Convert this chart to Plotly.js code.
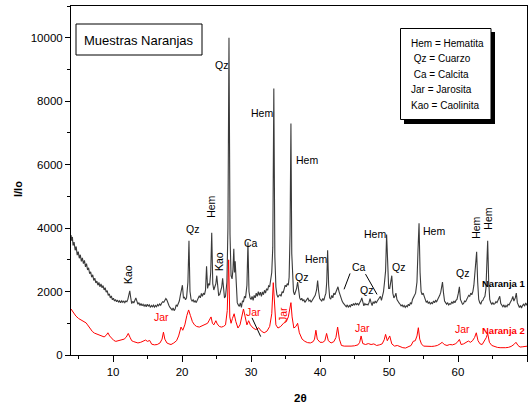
<!DOCTYPE html>
<html>
<head>
<meta charset="utf-8">
<script src="https://cdn.plot.ly/plotly-3.0.1.min.js"></script>
<style>html,body{margin:0;padding:0;background:#fff;}#chart{width:529px;height:406px;}</style>
</head>
<body>
<div id="chart"></div>
<script>
// ---- Data: Naranja 1 (2theta, I/Io) ----
const x1 = [
3.9,4.0,4.1,4.2,4.35,4.5,4.65,4.8,4.95,5.1,
5.25,5.4,5.55,5.7,5.85,6.0,6.15,6.3,6.45,6.6,
6.75,6.9,7.05,7.2,7.35,7.5,7.65,7.8,7.95,8.1,
8.25,8.4,8.55,8.7,8.85,9.0,9.15,9.3,9.45,9.6,
9.75,9.9,10.05,10.2,10.35,10.5,10.65,10.8,10.95,11.1,
11.25,11.4,11.55,11.7,11.85,12.0,12.15,12.3,12.42,12.55,
12.7,12.85,13.0,13.15,13.3,13.45,13.6,13.75,13.9,14.05,
14.2,14.35,14.5,14.65,14.8,14.95,15.1,15.25,15.4,15.55,
15.7,15.85,16.0,16.15,16.3,16.45,16.6,16.75,16.9,17.05,
17.2,17.35,17.5,17.65,17.8,17.95,18.1,18.25,18.4,18.55,
18.7,18.85,19.0,19.15,19.3,19.45,19.6,19.75,19.9,20.05,
20.2,20.35,20.5,20.65,20.85,21.0,21.15,21.3,21.45,21.6,
21.75,21.9,22.05,22.2,22.35,22.5,22.65,22.8,22.95,23.1,
23.25,23.4,23.55,23.7,23.85,24.0,24.15,24.3,24.45,24.6,
24.75,24.9,25.03,25.15,25.3,25.45,25.6,25.75,25.88,26.0,
26.15,26.3,26.5,26.65,26.8,26.95,27.1,27.25,27.38,27.5,
27.6,27.7,27.85,28.0,28.15,28.3,28.45,28.6,28.75,28.9,
29.05,29.2,29.4,29.55,29.7,29.85,30.0,30.15,30.3,30.45,
30.6,30.75,30.9,31.05,31.2,31.35,31.5,31.65,31.8,31.95,
32.1,32.25,32.4,32.55,32.7,32.85,33.0,33.15,33.3,33.45,
33.6,33.75,33.9,34.05,34.2,34.35,34.5,34.65,34.8,34.95,
35.1,35.25,35.4,35.52,35.65,35.78,35.9,36.02,36.15,36.3,
36.45,36.6,36.75,36.9,37.05,37.2,37.35,37.5,37.65,37.8,
37.95,38.1,38.25,38.4,38.55,38.7,38.85,39.0,39.15,39.3,
39.5,39.65,39.8,39.95,40.1,40.25,40.4,40.55,40.7,40.85,
40.97,41.1,41.25,41.4,41.55,41.7,41.85,42.0,42.15,42.3,
42.45,42.6,42.75,42.9,43.05,43.2,43.35,43.5,43.65,43.8,
43.95,44.1,44.25,44.4,44.55,44.7,44.85,45.0,45.15,45.3,
45.45,45.6,45.75,45.9,46.05,46.2,46.35,46.5,46.65,46.8,
46.95,47.1,47.25,47.4,47.55,47.7,47.85,48.0,48.15,48.3,
48.45,48.6,48.75,48.9,49.05,49.2,49.35,49.5,49.65,49.8,
49.95,50.1,50.25,50.4,50.55,50.7,50.85,51.0,51.15,51.3,
51.45,51.6,51.75,51.9,52.05,52.2,52.35,52.5,52.65,52.8,
52.95,53.1,53.25,53.4,53.55,53.7,53.85,54.05,54.2,54.35,
54.5,54.65,54.8,54.95,55.1,55.25,55.4,55.55,55.7,55.85,
56.0,56.15,56.3,56.45,56.6,56.75,56.9,57.05,57.2,57.35,
57.5,57.62,57.75,57.9,58.05,58.2,58.35,58.5,58.65,58.8,
58.95,59.1,59.25,59.4,59.55,59.7,59.85,60.05,60.2,60.35,
60.5,60.65,60.8,60.95,61.1,61.25,61.4,61.55,61.7,61.85,
62.0,62.15,62.3,62.45,62.58,62.7,62.85,63.0,63.15,63.3,
63.45,63.6,63.75,63.9,64.05,64.18,64.3,64.45,64.6,64.75,
64.9,65.05,65.2,65.35,65.5,65.65,65.8,65.95,66.05,66.2,
66.35,66.5,66.65,66.8,66.95,67.1,67.25,67.4,67.55,67.7,
67.8,67.95,68.1,68.3,68.45,68.6,68.75,68.9,69.05,69.2,
69.35,69.5,69.65,69.8,69.95,70.1
];
const y1 = [
3780,3600,3720,3450,3560,3300,3420,3150,3260,3050,
3160,2950,3060,2880,2980,2780,2880,2680,2750,2560,
2620,2450,2530,2350,2420,2270,2330,2200,2290,2150,
2240,2120,2190,2050,2120,1980,2030,1880,1930,1800,
1860,1740,1790,1700,1750,1680,1730,1660,1710,1650,
1710,1660,1700,1650,1700,1680,1760,1900,2020,1820,
1620,1690,1640,1720,1800,1700,1600,1650,1560,1620,
1550,1600,1540,1590,1520,1600,1540,1580,1500,1560,
1520,1570,1510,1560,1520,1590,1550,1610,1570,1640,
1680,1660,1740,1780,1730,1620,1560,1500,1460,1420,
1480,1400,1450,1580,1540,1640,1700,1880,2100,2200,
1800,1820,1740,1800,2300,3600,2000,1760,1700,1740,
1660,1720,1650,1740,1800,1870,1800,1940,1850,1950,
1900,2050,2800,2100,2250,2200,2600,3850,2250,2050,
2150,2250,2500,2100,1880,1900,2000,2150,2420,2050,
1800,1850,2300,4000,10000,3800,2500,2400,2700,3350,
2600,2950,2000,1650,1580,1530,1640,1500,1700,1680,
1850,1800,2200,3550,2000,1800,1750,1850,1720,1880,
1800,1950,1850,2000,1880,1980,1850,1990,1900,2040,
1950,2090,2040,2180,2150,2350,2600,3400,8400,3100,
2150,1900,1820,1880,1900,1850,2000,1960,2100,2200,
2150,2250,2200,2450,3800,7300,3200,2300,2000,1900,
1980,2100,2300,1950,1800,1730,1790,1700,1750,1660,
1720,1750,1800,1700,1730,1660,1710,1750,1800,1880,
2050,2350,2000,1780,1740,1700,1780,1720,1850,1950,
2300,3300,2200,1800,1760,1880,1800,1950,1900,1980,
2050,2150,2000,1900,1760,1700,1640,1600,1560,1520,
1580,1500,1560,1520,1600,1550,1620,1570,1640,1590,
1620,1580,1650,1700,1800,1650,1550,1620,1580,1600,
1580,1650,1780,1650,1560,1680,1620,1700,1640,1700,
1750,1800,1850,1720,1850,2000,2300,2650,3800,2500,
2100,2100,2300,2500,1950,1800,1850,1950,1750,1680,
1640,1600,1550,1580,1520,1560,1500,1550,1520,1600,
1550,1650,1600,1750,1800,1880,1950,2300,3300,4150,
2600,2000,1900,1950,1850,1700,1660,1700,1620,1680,
1600,1650,1620,1700,1650,1720,1680,1750,1800,1880,
1980,2150,2300,1950,1700,1650,1600,1650,1580,1620,
1600,1680,1620,1700,1650,1720,1750,1950,2150,1750,
1650,1600,1620,1700,1680,1750,1800,1880,1850,1950,
1900,2000,2200,2550,3000,3250,2300,1750,1650,1600,
1700,1720,1800,1850,2100,2700,3600,2300,1750,1650,
1600,1650,1600,1620,1680,1650,1720,1800,1850,1620,
1550,1520,1580,1500,1560,1520,1600,1580,1650,1700,
1750,1850,1700,1800,1950,1650,1580,1500,1560,1480,
1560,1600,1540,1640,1580,1620
];

// ---- Data: Naranja 2 (2theta, I/Io) ----
const x2 = [
3.9,4.2,4.6,5.0,5.4,5.8,6.1,6.3,6.6,7.0,
7.3,7.7,8.0,8.4,8.7,9.0,9.25,9.5,9.8,10.1,
10.4,10.8,11.2,11.6,11.9,12.2,12.45,12.7,13.0,13.3,
13.6,14.0,14.4,14.7,15.0,15.3,15.6,16.0,16.4,16.8,
17.1,17.3,17.5,17.8,18.1,18.4,18.8,19.2,19.5,19.85,
20.1,20.4,20.7,20.95,21.2,21.5,21.8,22.1,22.5,22.9,
23.3,23.7,23.95,24.2,24.4,24.6,24.9,25.1,25.4,25.7,
26.0,26.3,26.55,26.75,26.92,27.1,27.3,27.55,27.8,28.1,
28.4,28.65,28.9,29.15,29.4,29.65,29.9,30.3,30.7,31.1,
31.5,31.9,32.3,32.7,33.0,33.22,33.42,33.6,33.9,34.3,
34.7,35.1,35.4,35.6,35.78,35.95,36.2,36.5,36.75,37.0,
37.4,37.8,38.2,38.6,39.0,39.2,39.4,39.6,40.0,40.4,
40.7,40.95,41.2,41.6,42.0,42.3,42.55,42.8,43.1,43.5,
44.0,44.5,45.0,45.5,45.75,45.95,46.2,46.6,47.0,47.4,
47.8,48.2,48.6,49.0,49.3,49.5,49.75,50.1,50.4,50.8,
51.2,51.6,52.0,52.4,52.8,53.2,53.5,53.8,54.05,54.25,
54.45,54.7,55.0,55.4,55.8,56.2,56.6,57.0,57.4,57.7,
58.0,58.4,58.8,59.2,59.6,59.9,60.2,60.45,60.8,61.2,
61.5,61.8,62.1,62.4,62.65,62.9,63.2,63.5,63.8,64.1,
64.3,64.55,64.9,65.3,65.7,66.1,66.5,66.9,67.3,67.7,
68.1,68.4,68.7,69.0,69.4,69.8,70.1
];
const y2 = [
1450,1350,1230,1150,1100,1060,1010,950,850,740,
690,660,630,600,570,620,700,600,520,460,
430,450,470,500,560,680,560,450,420,400,
380,400,440,470,430,460,340,320,330,380,
500,720,500,380,350,330,380,450,600,880,
780,950,1250,1420,1250,1050,950,900,880,920,
950,1000,1100,1200,1000,950,1080,980,900,880,
900,950,1400,3000,1200,1000,1150,1300,1050,850,
950,1250,1450,1200,950,1080,950,850,800,860,
750,700,750,900,1300,2280,1300,950,850,900,
1000,1050,1200,1450,1650,1200,850,900,1000,700,
500,430,390,380,420,500,780,500,400,400,
450,680,450,380,420,550,880,500,300,280,
270,280,290,320,400,600,360,330,360,330,
350,300,320,350,480,650,450,600,350,280,
300,260,230,220,250,300,430,450,600,860,
500,350,280,270,260,270,280,300,350,400,
330,300,330,320,350,400,490,330,350,400,
440,400,450,550,700,450,350,330,420,550,
680,400,300,260,240,230,220,230,240,270,
330,400,300,250,260,270,280
];

// ---- Text ----
const titleText = 'Muestras Naranjas';
const keyLines = ['Hem = Hematita', '&nbsp;Qz = Cuarzo', '&nbsp;Ca = Calcita', 'Jar = Jarosita', 'Kao = Caolinita'];
const series1Name = 'Naranja 1';
const series2Name = 'Naranja 2';
// peak labels: [text, 2theta, I/Io, rotated]
const labels1 = [
  ['Kao',12.16,2550,true],['Qz',21.49,3970,false],['Hem',24.15,4660,true],['Kao',25.36,2930,true],
  ['Qz',25.75,9140,false],['Ca',29.99,3540,false],['Hem',31.55,7620,false],['Hem',38.16,6150,false],
  ['Qz',37.35,2470,false],['Hem',39.42,3020,false],['Ca',45.65,2760,false],['Qz',46.67,2050,false],
  ['Hem',47.97,3810,false],['Qz',51.3,2780,false],['Hem',56.57,3910,false],['Qz',60.69,2590,false],
  ['Hem',62.57,4000,true],['Hem',64.31,4290,true]
];
const labels2 = [
  ['Jar',17.09,1190,false],['Jar',30.39,1365,false],['Jar',34.63,1260,true],
  ['Jar',46.09,840,false],['Jar',60.63,820,false]
];

const FONT = 'Liberation Sans, Arial, Helvetica, sans-serif';
const L = 71, T = 6, PW = 456, PH = 349;
function px(x){ return (x - L) / PW; }
function py(y){ return (T + PH - y) / PH; }
function paperText(t, x, y, size, color, xanchor, angle){
  return {x: px(x), y: py(y), xref: 'paper', yref: 'paper', text: t, showarrow: false,
    xanchor: xanchor || 'center', yanchor: 'middle', textangle: angle || 0,
    font: {family: FONT, size: size, color: color}};
}

const traces = [
  {x: x1, y: y1, type: 'scatter', mode: 'lines', name: series1Name, line: {color: '#3a3a3a', width: 1.1}},
  {x: x2, y: y2, type: 'scatter', mode: 'lines', name: series2Name, line: {color: '#ff0000', width: 1}}
];

const annotations = [];
labels1.forEach(l => annotations.push({x: l[1], y: l[2], xref: 'x', yref: 'y', text: l[0], showarrow: false,
  xanchor: 'center', yanchor: 'middle', textangle: l[3] ? -90 : 0, font: {family: FONT, size: 10.5, color: '#000'}}));
labels2.forEach(l => annotations.push({x: l[1], y: l[2], xref: 'x', yref: 'y', text: l[0], showarrow: false,
  xanchor: 'center', yanchor: 'middle', textangle: l[3] ? -90 : 0, font: {family: FONT, size: 10.5, color: '#ff0000'}}));
annotations.push(paperText('<b>' + series1Name + '</b>', 527, 283, 9.5, '#000', 'right'));
annotations.push(paperText('<b>' + series2Name + '</b>', 527, 330, 9.5, '#ff0000', 'right'));
annotations.push(paperText(titleText, 139, 40, 13, '#000'));
const keyY = [43, 58.7, 74.3, 90, 105.7];
keyLines.forEach((t, i) => annotations.push(paperText(t, 409, keyY[i], 10, '#000', 'left')));
annotations.push(paperText('<b>I/Io</b>', 18, 189, 11, '#000', 'center', -90));
annotations.push(paperText('<b>2θ</b>', 300, 398, 11.5, '#000'));

const shapes = [
  {type: 'rect', xref: 'paper', yref: 'paper', x0: px(76), x1: px(202), y0: py(55), y1: py(24), line: {color: '#000', width: 1}, fillcolor: 'rgba(0,0,0,0)'},
  {type: 'rect', xref: 'paper', yref: 'paper', x0: px(404), x1: px(495), y0: py(124), y1: py(32), line: {width: 0}, fillcolor: '#000'},
  {type: 'rect', xref: 'paper', yref: 'paper', x0: px(400.5), x1: px(491), y0: py(119.5), y1: py(28.5), line: {color: '#000', width: 1}, fillcolor: '#fff'},
  {type: 'line', xref: 'x', yref: 'y', x0: 43.48, y0: 2070, x1: 44.35, y1: 2570, line: {color: '#000', width: 1}},
  {type: 'line', xref: 'x', yref: 'y', x0: 46.59, y0: 2550, x1: 48.26, y1: 1910, line: {color: '#000', width: 1}},
  {type: 'line', xref: 'x', yref: 'y', x0: 30.14, y0: 1170, x1: 31.4, y1: 580, line: {color: '#000', width: 1}}
];

const axisCommon = {showgrid: false, zeroline: false, showline: true, linecolor: '#000', linewidth: 1, mirror: true,
  ticks: 'outside', tickcolor: '#000', tickfont: {family: FONT, size: 11.5, color: '#000'}};

const layout = {
  width: 529, height: 406,
  margin: {l: L, r: 529 - L - PW, t: T, b: 406 - T - PH, pad: 0},
  paper_bgcolor: '#fff', plot_bgcolor: '#fff', showlegend: false,
  xaxis: Object.assign({}, axisCommon, {range: [3.9, 70], tick0: 0, dtick: 10, ticklen: 6,
    minor: {dtick: 5, tick0: 0, ticks: 'outside', ticklen: 3, tickcolor: '#000'}}),
  yaxis: Object.assign({}, axisCommon, {range: [0, 11000], tick0: 0, dtick: 2000, ticklen: 5, tickformat: 'd',
    minor: {dtick: 1000, tick0: 0, ticks: 'outside', ticklen: 3, tickcolor: '#000'}}),
  annotations: annotations,
  shapes: shapes
};

Plotly.newPlot('chart', traces, layout, {staticPlot: true, displayModeBar: false});
</script>
</body>
</html>
